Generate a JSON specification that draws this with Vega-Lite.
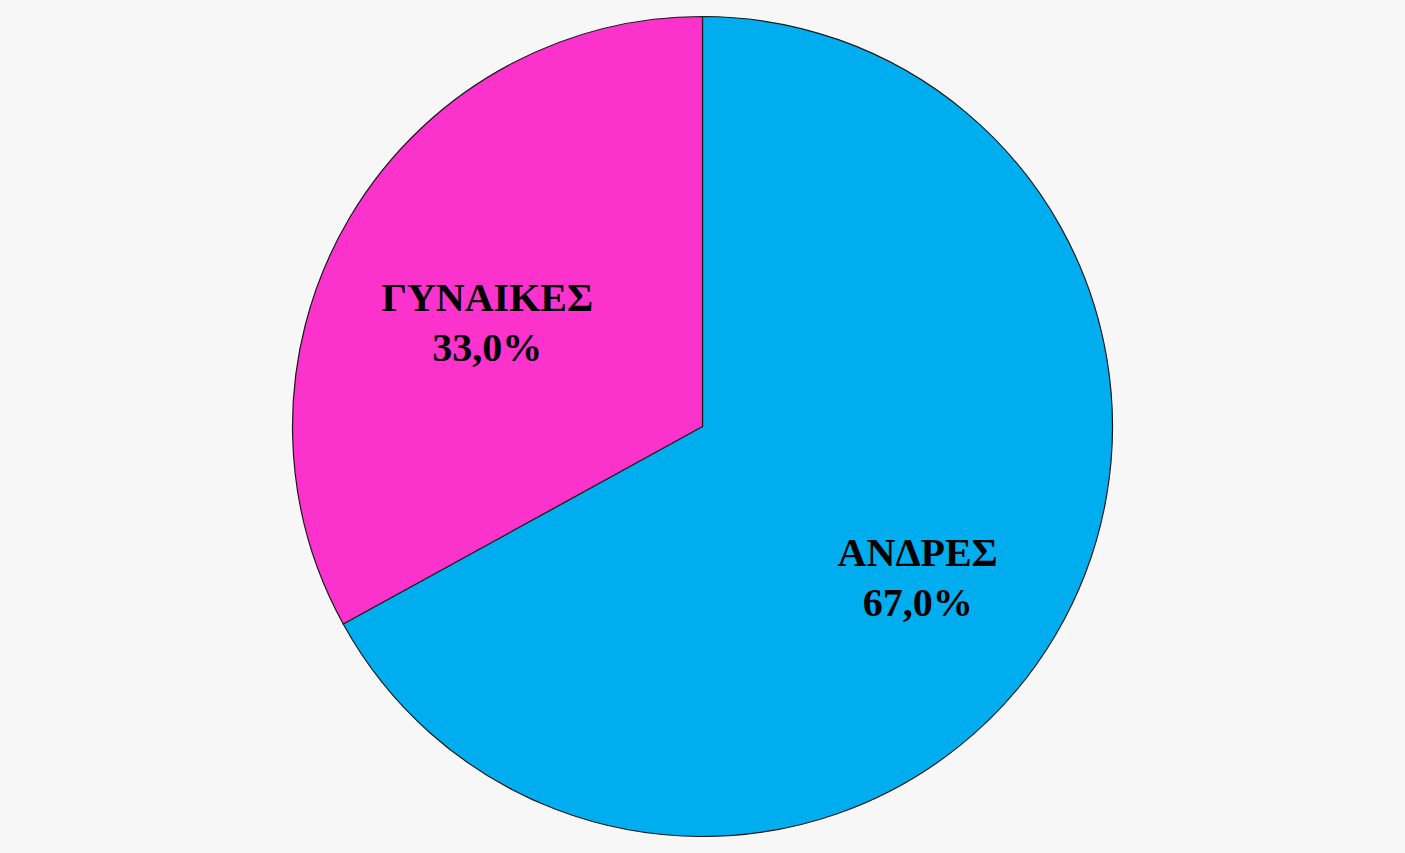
{
  "$schema": "https://vega.github.io/schema/vega-lite/v6.json",
  "width": 1405,
  "height": 853,
  "autosize": {"type": "fit", "contains": "padding"},
  "background": "#f7f7f7",
  "view": {"stroke": null},
  "data": {
    "values": [
      {"group": "ΑΝΔΡΕΣ", "pct": 67.0, "label": "ΑΝΔΡΕΣ\n67,0%"},
      {"group": "ΓΥΝΑΙΚΕΣ", "pct": 33.0, "label": "ΓΥΝΑΙΚΕΣ\n33,0%"}
    ]
  },
  "encoding": {
    "theta": {"field": "pct", "type": "quantitative", "stack": true},
    "order": {"field": "group", "sort": "ascending"}
  },
  "layer": [
    {
      "mark": {"type": "arc", "outerRadius": 410, "stroke": "#1a1a1a", "strokeWidth": 1.2},
      "encoding": {
        "color": {
          "field": "group",
          "type": "nominal",
          "scale": {"domain": ["ΑΝΔΡΕΣ", "ΓΥΝΑΙΚΕΣ"], "range": ["#00aeef", "#fb33cc"]},
          "legend": null
        }
      }
    },
    {
      "mark": {
        "type": "text",
        "radius": 250,
        "font": "Liberation Serif",
        "fontWeight": "bold",
        "fontSize": 40,
        "lineBreak": "\n",
        "lineHeight": 50,
        "color": "#000000"
      },
      "encoding": {"text": {"field": "label"}}
    }
  ]
}
